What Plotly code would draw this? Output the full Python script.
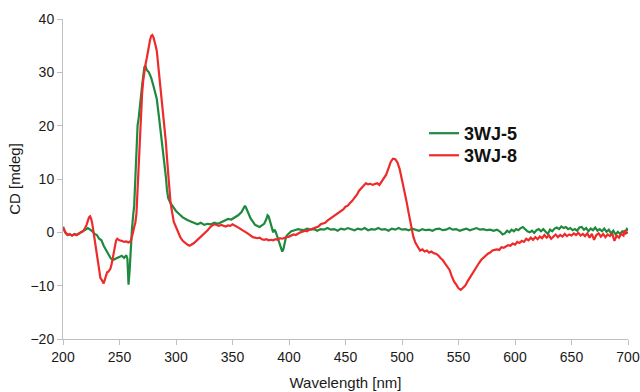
import plotly.graph_objects as go

# ---- 3WJ-5 (green) ----
wl_5 = [200,202,204,206,208,210,212,214,216,218,220,222,224,226,228,230,232,234,236,238,
        240,242,244,246,248,250,252,254,256,257,258,259,260,261,262,263,264,265,266,267,
        268,269,270,271,272,273,274,276,278,280,282,283,285,287,289,290,291,292,293,295,
        297,300,303,306,310,313,316,319,322,325,328,331,334,337,340,343,346,349,352,355,
        358,360,361,362,364,366,368,370,372,374,376,378,380,381,382,383,384,385,386,387,
        388,389,390,391,392,393,394,395,396,397,398,400,402,405,408,410,413,416,419,422,
        425,428,431,434,437,440,443,446,449,452,455,458,461,464,467,470,473,476,479,482,
        485,488,491,494,497,500,503,506,509,512,515,518,521,524,527,530,533,536,539,542,
        545,548,551,554,557,560,563,566,569,572,575,578,581,584,587,589,591,593,595,597,
        599,601,603,605,607,609,611,613,615,617,619,621,623,625,627,629,631,633,635,637,
        639,641,643,645,647,649,651,653,655,657,659,661,663,665,667,669,671,673,675,677,
        679,681,683,685,687,689,691,693,695,697,699,700]
cd_5 = [1.0,0.0,-0.5,-0.4,-0.6,-0.3,-0.5,-0.2,0.0,0.3,0.5,0.8,0.5,0.2,-0.3,-0.5,-1.2,-1.5,-2.5,-3.2,
        -4.0,-4.8,-5.2,-5.0,-4.8,-4.6,-4.4,-4.8,-4.3,-5.0,-9.8,-7.0,-2.0,0.5,3.0,5.0,10.0,15.0,20.0,21.5,
        23.0,25.5,27.5,29.0,31.0,31.2,30.5,30.0,29.0,27.5,26.0,25.0,21.5,18.0,14.5,13.0,10.5,8.0,6.5,5.5,
        4.8,4.0,3.4,2.8,2.3,2.0,1.8,1.5,1.8,1.4,1.6,1.5,1.8,1.6,1.9,2.2,2.5,2.4,2.8,3.2,
        3.8,4.8,5.0,4.6,3.5,2.6,2.0,1.4,1.2,1.0,1.3,1.6,2.5,3.2,3.0,2.2,1.2,0.3,0.0,0.5,
        0.2,-0.4,-1.0,-1.8,-2.6,-3.2,-3.6,-3.2,-2.0,-1.2,-0.6,-0.2,0.2,0.4,0.6,0.5,0.4,0.7,0.5,0.6,
        0.3,0.6,0.5,0.8,0.5,0.6,0.3,0.7,0.5,0.8,0.6,0.4,0.7,0.5,0.8,0.4,0.6,0.5,0.8,0.5,
        0.6,0.3,0.7,0.5,0.8,0.5,0.6,0.4,0.7,0.5,0.3,0.6,0.4,0.5,0.3,0.6,0.7,0.4,0.5,0.8,
        0.5,0.6,0.3,0.5,0.7,0.4,0.6,0.8,0.5,0.6,0.4,0.5,0.3,0.5,0.1,-0.4,-0.2,0.3,0.0,0.5,
        0.2,0.6,0.4,0.8,1.0,0.5,0.2,0.0,0.3,-0.1,0.4,0.6,0.2,0.6,0.1,-0.3,0.5,0.2,0.7,0.9,
        0.6,1.1,0.8,1.0,0.6,0.8,0.4,0.6,0.3,0.9,1.0,0.5,0.8,0.2,0.7,0.4,0.9,0.3,0.6,0.2,
        0.7,0.1,0.5,-0.2,0.3,-0.4,0.1,-0.3,0.2,-0.1,0.6,0.3]

# ---- 3WJ-8 (red) ----
wl_8 = [200,202,204,206,208,210,212,214,216,218,219,220,221,222,223,224,225,226,227,228,
        229,230,231,232,233,234,235,236,237,238,239,240,241,242,243,244,245,246,247,248,
        250,252,254,256,258,260,261,262,263,264,265,266,267,268,269,270,271,272,273,274,
        275,276,277,278,279,280,281,282,283,284,285,286,287,288,289,290,291,292,293,294,
        295,296,297,298,300,302,304,306,308,310,312,314,316,318,320,322,324,326,328,330,
        332,334,336,338,340,342,344,346,348,350,352,354,356,358,360,362,364,366,368,370,
        372,374,376,378,380,382,384,386,388,390,392,394,396,398,400,402,404,406,408,410,
        412,414,416,418,420,422,424,426,428,430,432,434,436,438,440,442,444,446,448,450,
        452,454,456,458,460,462,464,466,468,470,472,474,476,478,480,482,484,486,488,490,
        492,494,496,498,500,502,504,506,508,510,512,514,516,518,520,522,524,526,528,530,
        532,534,536,538,540,542,544,546,548,550,552,554,556,558,560,562,564,566,568,570,
        572,574,576,578,580,582,584,586,588,590,592,594,596,598,600,602,604,606,608,610,
        612,614,616,618,620,622,624,626,628,630,632,634,636,638,640,642,644,646,648,650,
        652,654,656,658,660,662,664,666,668,670,672,674,676,678,680,682,684,686,688,690,
        692,694,696,697,698,700]
cd_8 = [1.0,0.0,-0.5,-0.3,-0.6,-0.4,-0.5,-0.2,0.0,0.2,0.8,1.0,1.5,2.2,2.8,3.0,2.5,1.5,0.2,-1.0,
        -2.5,-4.0,-5.5,-7.0,-8.5,-9.0,-9.2,-9.6,-9.0,-8.2,-7.5,-7.4,-7.0,-6.8,-6.0,-5.0,-4.0,-2.5,-1.5,-1.2,
        -1.5,-1.6,-1.8,-1.7,-1.9,-1.6,-1.0,0.0,1.0,1.8,3.5,8.0,13.0,19.0,23.0,26.0,28.5,30.5,31.5,32.5,
        34.0,35.0,36.0,36.8,37.0,36.6,36.0,35.0,34.0,32.0,30.0,28.0,26.0,24.0,22.0,20.0,17.0,14.0,11.0,8.0,
        6.0,4.5,3.0,2.0,1.0,0.0,-1.0,-1.6,-2.0,-2.3,-2.5,-2.3,-2.0,-1.6,-1.2,-0.8,-0.5,-0.1,0.4,0.9,
        1.3,1.5,1.3,1.2,1.4,1.2,1.1,1.3,1.2,1.5,1.3,1.0,0.8,0.5,0.3,0.0,-0.3,-0.6,-0.9,-1.0,
        -1.1,-1.0,-1.3,-1.4,-1.3,-1.5,-1.4,-1.5,-1.3,-1.4,-1.1,-1.2,-1.0,-0.9,-0.8,-0.6,-0.4,-0.5,-0.2,0.0,
        0.1,0.3,0.2,0.5,0.6,0.8,1.0,1.1,1.5,1.7,1.8,2.2,2.5,2.7,3.0,3.3,3.6,4.0,4.3,4.8,
        5.0,5.5,5.9,6.5,7.0,7.8,8.3,8.8,9.2,9.0,9.1,8.9,9.0,9.2,8.9,9.5,10.2,10.8,12.0,13.2,
        13.8,13.7,13.1,11.8,9.8,8.0,5.8,3.5,1.2,-0.8,-2.0,-2.8,-3.4,-3.2,-3.6,-3.4,-3.8,-3.6,-3.9,-4.0,
        -4.3,-4.8,-5.2,-5.8,-6.3,-7.0,-8.2,-9.2,-9.8,-10.5,-10.8,-10.4,-10.0,-9.2,-8.5,-7.8,-7.0,-6.5,-5.8,-5.2,
        -4.8,-4.3,-4.0,-3.8,-3.4,-3.3,-3.2,-3.3,-2.8,-2.9,-2.6,-2.4,-2.5,-2.1,-2.3,-1.8,-2.0,-1.6,-1.8,-1.2,
        -1.5,-1.0,-1.4,-0.9,-1.3,-0.8,-1.1,-0.5,-1.0,-0.6,-1.2,-0.7,-0.4,-0.9,-0.5,-0.8,-0.3,-0.7,-0.4,-0.6,
        -0.2,-0.5,-0.1,-0.6,-0.3,-0.7,-0.2,-1.0,-0.3,-1.4,-0.5,-0.2,-0.8,-0.3,-0.9,-0.4,-0.7,-0.2,-1.6,-0.6,
        -1.0,-0.3,-0.6,0.4,-0.2,0.0]

x_ticks = [200, 250, 300, 350, 400, 450, 500, 550, 600, 650, 700]
y_ticks = [-20, -10, 0, 10, 20, 30, 40]

GREEN = "#1E8A3E"
RED = "#EE2B2B"
FONT = "Liberation Sans, Arial, sans-serif"
TXT = "#1A1A1A"

fig = go.Figure()
fig.add_trace(go.Scatter(x=wl_5, y=cd_5, mode="lines", name="3WJ-5",
                         line=dict(color=GREEN, width=2.2), legend="legend"))
fig.add_trace(go.Scatter(x=wl_8, y=cd_8, mode="lines", name="3WJ-8",
                         line=dict(color=RED, width=2.2), legend="legend2"))

leg_common = dict(xanchor="left", yanchor="top", bgcolor="rgba(0,0,0,0)", borderwidth=0,
                  font=dict(family=FONT, size=18, color="#111111", weight="bold"),
                  itemwidth=30)

fig.update_layout(
    width=640, height=392,
    margin=dict(l=63, r=12, t=19, b=53, autoexpand=False),
    paper_bgcolor="white", plot_bgcolor="white",
    font=dict(family=FONT, size=14, color=TXT),
    showlegend=True,
    legend=dict(x=0.639, y=0.70, **leg_common),
    legend2=dict(x=0.639, y=0.631, **leg_common),
    xaxis=dict(range=[200, 700], tickvals=x_ticks, showgrid=False, zeroline=False,
               automargin=False,
               showline=True, linecolor="#BFBFBF", linewidth=1,
               ticks="outside", ticklen=5, tickcolor="#BFBFBF",
               tickfont=dict(size=14, color=TXT),
               title=dict(text="Wavelength [nm]", font=dict(size=15, color=TXT), standoff=13)),
    yaxis=dict(range=[-20, 40], tickvals=y_ticks, showgrid=False, zeroline=False,
               automargin=False,
               showline=True, linecolor="#BFBFBF", linewidth=1,
               ticks="outside", ticklen=5, tickcolor="#BFBFBF",
               tickfont=dict(size=14, color=TXT),
               title=dict(text="CD [mdeg]", font=dict(size=15, color=TXT), standoff=6)),
)

fig.write_html("out.html", config={"displayModeBar": False},
               post_script="document.body.style.margin='0';document.body.style.overflow='hidden';")
